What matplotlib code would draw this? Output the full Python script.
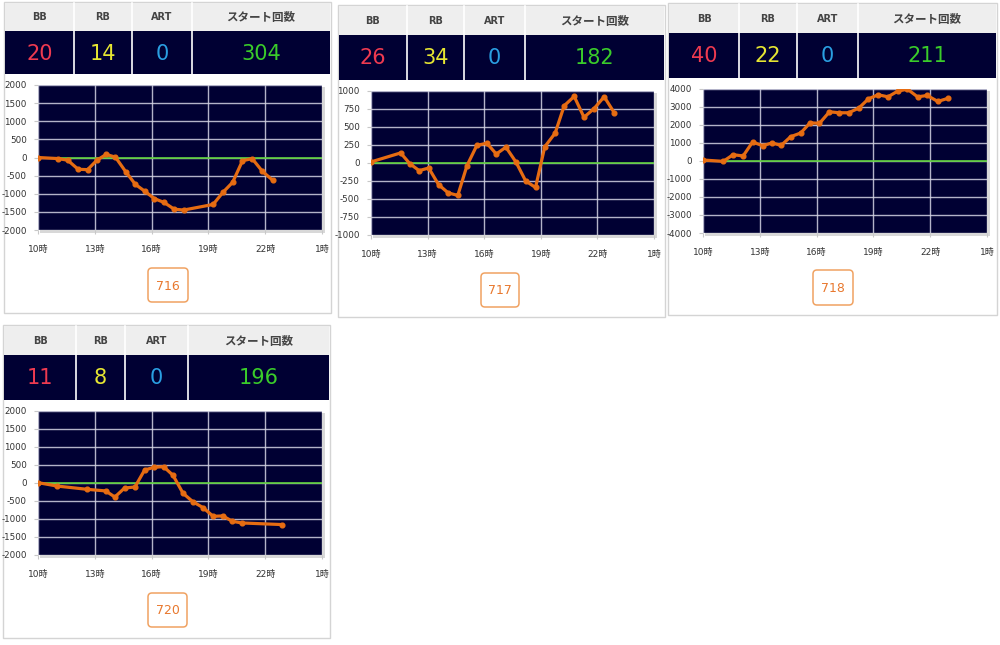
import matplotlib
matplotlib.use("Agg")
import matplotlib.pyplot as plt
from matplotlib.patches import Rectangle, FancyBboxPatch

plt.rcParams['font.family'] = ['DejaVu Sans', 'Noto Sans CJK JP']

# ---------------- data ----------------
machines = ["716", "717", "718", "720"]
bb_counts = [20, 26, 40, 11]
rb_counts = [14, 34, 22, 8]
art_counts = [0, 0, 0, 0]
start_counts = [304, 182, 211, 196]
header_labels = ["BB", "RB", "ART", "スタート回数"]

x_ticks = [10, 13, 16, 19, 22, 25]
x_tick_labels = ["10時", "13時", "16時", "19時", "22時", "1時"]

hours1 = [10.0, 11.07, 11.57, 12.12, 12.62, 13.11, 13.6, 14.09, 14.63, 15.14, 15.65,
          16.15, 16.66, 17.19, 17.69, 19.25, 19.77, 20.28, 20.8, 21.31, 21.85, 22.4]
vals1 = [0, -30, -75, -325, -335, -75, 85, 10, -390, -740, -935,
         -1135, -1240, -1425, -1450, -1295, -960, -685, -90, -30, -380, -630]
yticks1 = [-2000, -1500, -1000, -500, 0, 500, 1000, 1500, 2000]

hours2 = [10.0, 11.57, 12.06, 12.55, 13.06, 13.58, 14.09, 14.6, 15.09, 15.61, 16.14, 16.64,
          17.15, 17.68, 18.2, 18.72, 19.21, 19.76, 20.24, 20.77, 21.29, 21.82, 22.36, 22.9]
vals2 = [15, 140, -10, -105, -70, -300, -415, -450, -35, 245, 275, 125,
         220, 15, -250, -340, 225, 415, 795, 925, 635, 755, 920, 695]
yticks2 = [-1000, -750, -500, -250, 0, 250, 500, 750, 1000]

hours3 = [10.0, 11.07, 11.59, 12.12, 12.62, 13.15, 13.64, 14.13, 14.63, 15.16, 15.66, 16.15,
          16.68, 17.19, 17.69, 18.23, 18.74, 19.25, 19.77, 20.28, 20.8, 21.33, 21.84, 22.4, 22.92]
vals3 = [55, -20, 350, 280, 1055, 850, 1000, 870, 1350, 1555, 2125, 2090,
         2735, 2680, 2680, 2940, 3455, 3680, 3565, 3880, 3990, 3565, 3640, 3310, 3475]
yticks3 = [-4000, -3000, -2000, -1000, 0, 1000, 2000, 3000, 4000]

hours4 = [10.0, 11.01, 12.59, 13.57, 14.06, 14.57, 15.12, 15.63, 16.12, 16.63, 17.13,
          17.66, 18.18, 18.72, 19.25, 19.76, 20.27, 20.77, 22.9]
vals4 = [10, -85, -175, -220, -390, -140, -110, 360, 435, 455, 215,
         -285, -520, -685, -925, -915, -1065, -1110, -1155]
yticks4 = [-2000, -1500, -1000, -500, 0, 500, 1000, 1500, 2000]

series_hours = [hours1, hours2, hours3, hours4]
series_vals = [vals1, vals2, vals3, vals4]
series_yticks = [yticks1, yticks2, yticks3, yticks4]

# ---------------- layout (pixels) ----------------
W, H = 1000, 645
layouts = [
    dict(box=(4, 2, 331, 313), head=31, dark=74, seps=(74, 132, 192),
         plot=(38, 85, 322, 230), btn=(148, 268, 188, 302)),
    dict(box=(338, 5, 665, 317), head=35, dark=80, seps=(407, 464, 525),
         plot=(371, 91, 654, 235), btn=(481, 273, 519, 307)),
    dict(box=(668, 3, 997, 315), head=33, dark=78, seps=(739, 797, 858),
         plot=(703, 89, 987, 233), btn=(813, 270, 853, 305)),
    dict(box=(3, 325, 330, 638), head=355, dark=400, seps=(76, 125, 188),
         plot=(38, 411, 322, 555), btn=(148, 593, 187, 627)),
]

NAVY = "#000033"
num_colors = ["#ee3a50", "#e6e632", "#2a9fe2", "#3acc2a"]
LINE = "#e66c12"

fig = plt.figure(figsize=(W / 100, H / 100), dpi=100)
bg = fig.add_axes([0, 0, 1, 1])
bg.set_xlim(0, W)
bg.set_ylim(H, 0)
bg.axis("off")

for i, L in enumerate(layouts):
    bx0, by0, bx1, by1 = L["box"]
    bg.add_patch(Rectangle((bx0, by0), bx1 - bx0, by1 - by0, facecolor="white",
                           edgecolor="#d4d4d4", lw=1.0, zorder=1))
    bg.add_patch(Rectangle((bx0 + 1, by0 + 1), bx1 - bx0 - 2, L["head"] - by0 - 1,
                           facecolor="#eeeeee", edgecolor="none", zorder=2))
    bg.add_patch(Rectangle((bx0 + 1, L["head"]), bx1 - bx0 - 2, L["dark"] - L["head"],
                           facecolor=NAVY, edgecolor="none", zorder=2))
    cols = [bx0 + 1] + list(L["seps"]) + [bx1 - 1]
    for s in L["seps"]:
        bg.plot([s, s], [by0 + 1, L["dark"]], color="white", lw=1.2, zorder=3)
    vals_row = [bb_counts[i], rb_counts[i], art_counts[i], start_counts[i]]
    for c in range(4):
        cx = (cols[c] + cols[c + 1]) / 2
        bg.text(cx, (by0 + L["head"]) / 2 + 1, header_labels[c], ha="center", va="center",
                fontsize=8.3 if c == 3 else 7, fontweight="bold", color="#444444", zorder=4)
        bg.text(cx, (L["head"] + L["dark"]) / 2 + 1, str(vals_row[c]), ha="center",
                va="center", fontsize=15, color=num_colors[c], zorder=4)
    px0, py0, px1, py1 = L["plot"]
    bg.add_patch(Rectangle((px0 + 2, py0 + 2), px1 - px0 + 1, py1 - py0 + 1,
                           facecolor="#d8d8d8", edgecolor="none", zorder=2))
    qx0, qy0, qx1, qy1 = L["btn"]
    bg.add_patch(FancyBboxPatch((qx0, qy0), qx1 - qx0, qy1 - qy0,
                                boxstyle="round,pad=0,rounding_size=4",
                                facecolor="white", edgecolor="#f0a262", lw=1.1, zorder=3))
    bg.text((qx0 + qx1) / 2, (qy0 + qy1) / 2 + 1, machines[i], ha="center", va="center",
            fontsize=9, color="#e8782e", zorder=4)

    ax = fig.add_axes([px0 / W, 1 - py1 / H, (px1 - px0) / W, (py1 - py0) / H])
    ax.set_facecolor(NAVY)
    yt = series_yticks[i]
    ax.set_xlim(10, 25)
    ax.set_ylim(yt[0], yt[-1])
    ax.set_xticks(x_ticks)
    ax.set_xticklabels(x_tick_labels)
    ax.set_yticks(yt)
    ax.set_yticklabels([str(v) for v in yt])
    ax.tick_params(axis="both", labelsize=6.3, colors="#c8c8c8", labelcolor="#333333",
                   length=3, width=0.8)
    ax.tick_params(axis="x", pad=8)
    ax.tick_params(axis="y", pad=5)
    for lab in ax.get_xticklabels():
        lab.set_fontsize(6.5)
    for sp in ax.spines.values():
        sp.set_visible(False)
    ax.grid(True, color="#d4d4e4", lw=1.0, alpha=0.85)
    ax.set_axisbelow(True)
    ax.axhline(0, color="#5ccf3a", lw=1.2, zorder=2)
    ax.plot(series_hours[i], series_vals[i], color=LINE, lw=2.3, marker="o",
            markersize=3.4, markerfacecolor=LINE, markeredgecolor=LINE, zorder=3)

fig.savefig("out.png", dpi=100)
